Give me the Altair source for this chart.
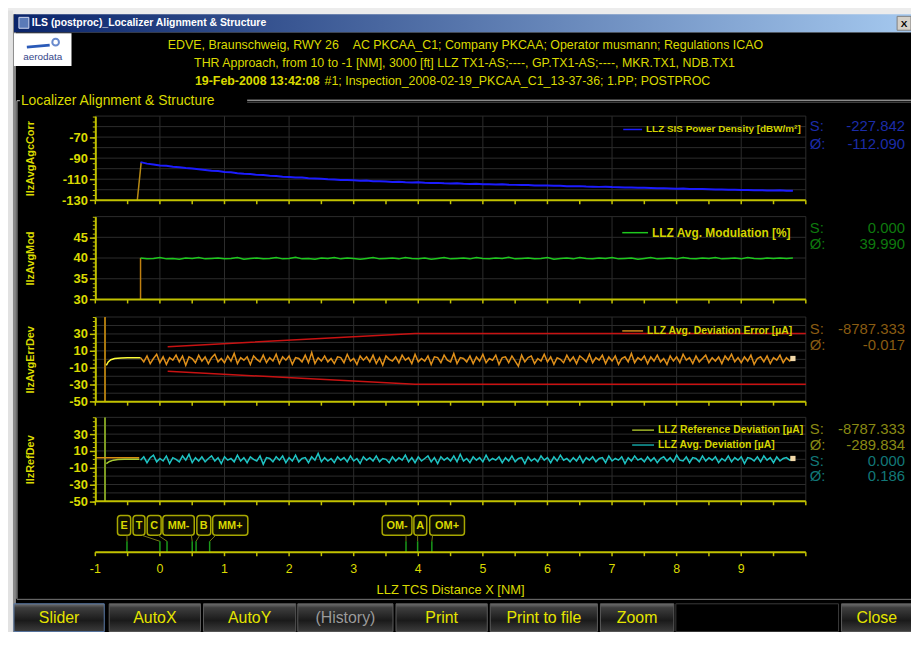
import altair as alt
import pandas as pd

# ------------------------------------------------------------------ data
x_ticks = [-1, -0.5, 0, 0.5, 1, 1.5, 2, 2.5, 3, 3.5, 4, 4.5, 5, 5.5, 6, 6.5, 7, 7.5, 8, 8.5, 9, 9.5, 10]
x_labels = [-1, 0, 1, 2, 3, 4, 5, 6, 7, 8, 9]
x_grid = [0, 1, 2, 3, 4, 5, 6, 7, 8, 9, 10]

# LLZ SIS power density [dBW/m2], samples every 0.1 NM from -0.3 NM
power_density = [
    -93.8, -95.2, -96.0, -96.9, -97.3, -98.1, -98.6, -99.4, -99.9, -100.6,
    -101.2, -101.9, -102.3, -103.2, -103.5, -104.3, -104.8, -105.1, -105.9, -106.1,
    -106.8, -107.0, -107.6, -107.9, -108.4, -108.5, -109.1, -109.3, -109.6, -110.1,
    -110.2, -110.7, -110.8, -111.1, -111.4, -111.3, -111.9, -112.0, -112.2, -112.6,
    -112.4, -112.9, -113.1, -113.0, -113.4, -113.6, -113.5, -113.9, -114.0, -113.8,
    -114.3, -114.5, -114.4, -114.7, -114.9, -115.0, -114.8, -115.3, -115.4, -115.6,
    -115.5, -115.9, -116.0, -116.1, -116.3, -116.2, -116.6, -116.7, -116.6, -117.0,
    -117.1, -117.3, -117.2, -117.5, -117.6, -117.9, -117.8, -118.1, -118.2, -118.3,
    -118.6, -118.5, -118.8, -119.0, -118.9, -119.3, -119.4, -119.3, -119.6, -119.8,
    -119.7, -120.0, -120.1, -120.3, -120.2, -120.5, -120.4, -120.7, -120.8, -120.6,
    -121.0, -121.0]

# LLZ avg. modulation [%], every 0.1 NM from -0.3 NM
modulation = [
    40.0, 39.8, 39.9, 40.1, 39.8, 39.9, 39.7, 40.0, 39.9, 40.1, 39.8, 39.9, 40.0, 39.8, 39.9, 40.1, 39.7, 39.9, 40.0, 39.8,
    39.9, 40.1, 39.8, 39.9, 40.2, 39.8, 39.9, 39.7, 40.0, 39.9, 40.1, 39.8, 40.0, 39.9, 39.7, 39.9, 40.1, 39.8, 39.9, 40.0,
    39.8, 40.1, 39.9, 39.8, 40.0, 39.7, 39.9, 40.1, 39.8, 39.9, 40.0, 39.8, 40.1, 39.9, 39.8, 40.0, 39.9, 40.2, 39.8, 39.9,
    40.0, 39.8, 39.9, 40.1, 39.7, 39.9, 40.0, 39.8, 40.1, 39.9, 39.8, 40.0, 39.9, 40.1, 39.8, 39.9, 40.0, 39.7, 39.9, 40.1,
    39.8, 39.9, 40.0, 39.8, 40.1, 39.9, 39.8, 40.0, 39.9, 40.1, 39.8, 39.9, 40.0, 39.8, 40.1, 39.9, 39.8, 40.0, 39.9, 40.0,
    39.9, 40.0]

# LLZ avg. deviation error [uA], every 0.05 NM from -0.3 NM
dev_error = [
    2, -3, 4, -5, 1, 6, -4, 3, -6, 2, -1, 5, -3, 4, -7, 3, 1, -4, 5, -2,
    3, -5, 2, 6, -3, 1, -4, 4, -2, 7, -5, 2, -1, 3, -6, 4, 0, -3, 5, -4,
    2, -2, 6, -5, 3, -1, 4, -6, 2, 1, -3, 5, -4, 8, -5, 2, -2, 4, -3, 1,
    -5, 3, 2, -4, 6, -2, 1, -6, 4, -1, 3, -3, 5, -5, 2, -7, 4, 0, -2, 3,
    -4, 5, -1, 2, -5, 6, -3, 1, -2, 4, -6, 3, 2, -4, 5, -1, -3, 7, -5, 2,
    1, -3, 4, -5, 3, -2, 6, -4, 1, -1, 5, -6, 2, 3, -4, 4, -2, -8, 5, -3,
    2, 4, -5, 1, -2, 6, -3, 3, -6, 2, 0, -4, 5, -2, 3, -5, 4, 1, -3, 6,
    -4, 2, -1, 5, -5, 3, -2, 4, -6, 1, 3, -3, 7, -4, 2, -1, 4, -5, 3, -2,
    5, -3, 1, -6, 4, -2, 3, -4, 6, -1, 2, -5, 4, -3, 1, 5, -4, 2, -2, 3,
    -5, 4, -1, 6, -3, 2, -4, 3, -2, 5, -6, 1, 3, -3, 4, -5, 2, -1, 5, -4,
    2, -2, 1]

# LLZ avg. deviation [uA], every 0.05 NM from -0.3 NM
avg_deviation = [
    -1, 3, -4, 2, 5, -3, 1, -2, 4, -5, 2, 0, -3, 4, -1, 6, -4, 2, -2, 3,
    -3, 1, 4, -2, 2, -5, 3, -1, 1, -3, 5, -2, 2, -4, 3, 0, -2, 4, -6, 2,
    1, -3, 3, -1, 4, -4, 2, -2, 5, -3, 1, 2, -4, 3, -1, 7, -3, 2, -2, 1,
    -4, 3, -1, 2, -3, 4, -2, 1, -5, 3, -1, 2, -2, 4, -3, 1, 0, -4, 3, -2,
    2, -1, 5, -3, 2, -4, 3, -2, 1, 4, -3, 2, -5, 3, -1, 2, -2, 4, -3, 6,
    -2, 1, -4, 3, -1, 2, -3, 5, -2, 1, -1, 3, -4, 2, -2, 4, -3, 1, 2, -5,
    3, -2, 1, -3, 4, -1, 2, -4, 3, -2, 5, -1, 1, -3, 2, -2, 4, -4, 2, -1,
    3, -3, 1, 2, -4, 4, -2, 1, -1, 3, -5, 2, -2, 4, -1, 1, -3, 3, -2, 2,
    -4, 1, 3, -2, 2, -3, 5, -1, -2, 3, -4, 2, 1, -3, 4, -2, 2, -1, 3, -4,
    1, -2, 4, -3, 2, -1, 3, -5, 2, 1, -2, 3, -3, 4, -1, 2, -4, 3, -2, 1,
    2, -1, 1]

dist_coarse = [round(-0.3 + 0.1 * i, 3) for i in range(len(power_density))]
dist_mod = [round(-0.3 + 0.1 * i, 3) for i in range(len(modulation))]
dist_fine_err = [round(-0.3 + 0.05 * i, 3) for i in range(len(dev_error))]
dist_fine_dev = [round(-0.3 + 0.05 * i, 3) for i in range(len(avg_deviation))]

agc_spike_x = [-0.35, -0.29]
agc_spike_y = [-130, -94]
mod_spike_x = [-0.30, -0.30]
mod_spike_y = [30, 40]
err_spike_x = [-0.85, -0.85]
err_spike_y = [-50, 50]
err_init_x = [-0.83, -0.80, -0.76, -0.70, -0.60, -0.50, -0.40, -0.30]
err_init_y = [-7, -3, -0.5, 1, 1.5, 1.8, 1.8, 1.8]
tol_x = [0.12, 3.95, 10]
tol_upper = [15, 30.5, 30.5]
tol_lower = [-14, -29.5, -29.5]
ref_spike_x = [-0.85, -0.85]
ref_spike_y = [-50, 50]
ref_init_x = [-0.83, -0.78, -0.72, -0.65, -0.55, -0.45, -0.32]
ref_init_y = [-5, -2.5, -1, -0.3, 0, 0, 0]
ref_pre_x = [-1, -0.32]
ref_pre_y = [2, 2]

marker_names = ["E", "T", "C", "MM-", "B", "MM+", "OM-", "A", "OM+"]
marker_x = [-0.51, 0.0, 0.11, 0.50, 0.56, 0.77, 3.81, 3.99, 4.21]
marker_box_left = [-0.657, -0.416, -0.197, 0.045, 0.572, 0.817, 3.441, 3.932, 4.177]
marker_box_right = [-0.453, -0.232, 0.019, 0.532, 0.787, 1.361, 3.902, 4.131, 4.715]

header_1 = "EDVE, Braunschweig, RWY 26\u00a0\u00a0\u00a0\u00a0AC PKCAA_C1; Company PKCAA; Operator musmann; Regulations ICAO"
header_2 = "THR Approach, from 10 to -1 [NM], 3000 [ft] LLZ TX1-AS;----, GP.TX1-AS;----, MKR.TX1, NDB.TX1"
header_3a = "19-Feb-2008 13:42:08"
header_3b = "#1; Inspection_2008-02-19_PKCAA_C1_13-37-36; 1.PP; POSTPROC"

buttons = ["Slider", "AutoX", "AutoY", "(History)", "Print", "Print to file", "Zoom", "", "Close"]

# ------------------------------------------------------------------ layout / style
W, H = 716, 624
FONT = "Liberation Sans"
YEL = "#dada00"
AXC = "#c2c200"
GRID = "#2c2c2c"


def vx(px):
    return px - 96


def vy(py):
    return py - 8


one = pd.DataFrame({"k": [0]})
XS = alt.Scale(domain=[-1, 10], nice=False, zero=False)


def txt(s, px, py, size=12, color=YEL, align="left", weight="normal"):
    return alt.Chart(one).mark_text(
        text=s, align=align, baseline="middle", fontSize=size, color=color,
        fontWeight=weight, font=FONT
    ).encode(x=alt.value(vx(px)), y=alt.value(vy(py)))


def box(px1, py1, px2, py2, **kw):
    return alt.Chart(one).mark_rect(**kw).encode(
        x=alt.value(vx(px1)), x2=alt.value(vx(px2)),
        y=alt.value(vy(py1)), y2=alt.value(vy(py2)))


def seg(px1, py1, px2, py2, color, width=1.0):
    return alt.Chart(one).mark_rule(color=color, strokeWidth=width).encode(
        x=alt.value(vx(px1)), x2=alt.value(vx(px2)),
        y=alt.value(vy(py1)), y2=alt.value(vy(py2)))


panels = [
    dict(title="IlzAvgAgcCorr", domain=[-130, -50], top=114.5, bottom=199.3,
         major=[-130, -110, -90, -70],
         minor=[-130, -125, -120, -115, -110, -105, -100, -95, -90, -85, -80, -75, -70, -65, -60, -55, -50],
         grid=[-120, -110, -100, -90, -80, -70, -60, -50]),
    dict(title="IlzAvgMod", domain=[30, 50], top=215.8, bottom=299.3,
         major=[30, 35, 40, 45],
         minor=[30, 31, 32, 33, 34, 35, 36, 37, 38, 39, 40, 41, 42, 43, 44, 45, 46, 47, 48, 49, 50],
         grid=[35, 40, 45, 50]),
    dict(title="IlzAvgErrDev", domain=[-50, 50], top=317.0, bottom=402.3,
         major=[-50, -30, -10, 10, 30],
         minor=[-50, -45, -40, -35, -30, -25, -20, -15, -10, -5, 0, 5, 10, 15, 20, 25, 30, 35, 40, 45, 50],
         grid=[-40, -30, -20, -10, 0, 10, 20, 30, 40, 50]),
    dict(title="IlzRefDev", domain=[-50, 50], top=418.1, bottom=502.7,
         major=[-50, -30, -10, 10, 30],
         minor=[-50, -45, -40, -35, -30, -25, -20, -15, -10, -5, 0, 5, 10, 15, 20, 25, 30, 35, 40, 45, 50],
         grid=[-40, -30, -20, -10, 0, 10, 20, 30, 40, 50]),
]


def ysc(p):
    return alt.Scale(domain=p["domain"], range=[vy(p["bottom"]), vy(p["top"])], nice=False, zero=False)


def series(xs, ys, p, color, width=1.5):
    df = pd.DataFrame({"x": xs, "y": ys, "i": list(range(len(xs)))})
    return alt.Chart(df).mark_line(color=color, strokeWidth=width).encode(
        x=alt.X("x:Q", scale=XS, axis=None),
        y=alt.Y("y:Q", scale=ysc(p), axis=None),
        order=alt.Order("i:Q"))


def end_marker(x, y, p):
    df = pd.DataFrame({"x": [x], "y": [y]})
    return alt.Chart(df).mark_square(size=28, color="#f2d8a8", opacity=1).encode(
        x=alt.X("x:Q", scale=XS, axis=None), y=alt.Y("y:Q", scale=ysc(p), axis=None))


layers = []

# ---- window chrome
layers.append(box(14, 30, 930, 650, fill="#000000"))
layers.append(box(8, 8, 13, 650, fill="#e2e2e2"))
layers.append(box(13, 12, 16, 650, fill="#8a8a8a"))
title_grad = {"gradient": "linear", "x1": 0, "y1": 0, "x2": 1, "y2": 0,
              "stops": [{"offset": 0, "color": "#0a246a"}, {"offset": 1, "color": "#a6caf0"}]}
layers.append(box(14, 12, 930, 30, fill=title_grad))
layers.append(box(19, 15, 29, 26, fill="#5a7ab8", stroke="#d0d8f0", strokeWidth=1))
layers.append(txt("ILS (postproc)_Localizer Alignment & Structure", 32, 21, size=10.5, color="#ffffff", weight="bold"))
layers.append(box(904, 14, 918, 28, fill="#d4d0c8", stroke="#808080", strokeWidth=1))
layers.append(txt("X", 911, 21.5, size=10, color="#000000", align="center", weight="bold"))

# logo
layers.append(box(14, 31, 72, 64, fill="#ffffff"))
layers.append(seg(27, 45, 50, 43, "#2a5ab8", 3))
layers.append(alt.Chart(one).mark_point(shape="circle", size=45, filled=False, color="#2a5ab8", strokeWidth=2).encode(
    x=alt.value(vx(56)), y=alt.value(vy(40))))
layers.append(txt("aerodata", 43, 55, size=10, color="#34468a", align="center"))

# header
layers.append(txt(header_1, 469, 43, size=12.5, align="center"))
layers.append(txt(header_2, 468, 61, size=12.5, align="center"))
layers.append(txt(header_3a, 322, 79, size=12.5, align="right", weight="bold"))
layers.append(txt(header_3b, 327, 79, size=12.5, align="left"))

# group frame
layers.append(seg(17, 99, 20, 99, "#c0c0c0", 1))
layers.append(txt("Localizer Alignment & Structure", 21, 99, size=14))
layers.append(seg(249, 98.5, 930, 98.5, "#c8c8c8", 1))
layers.append(seg(249, 100.5, 930, 100.5, "#5a5a5a", 1))
layers.append(seg(17, 99, 17, 601, "#c0c0c0", 1))
layers.append(seg(17, 601.5, 930, 601.5, "#7a7a7a", 1))

# ---- panels
for p in panels:
    b = vy(p["bottom"])
    t = vy(p["top"])
    layers.append(alt.Chart(pd.DataFrame({"g": p["grid"]})).mark_rule(color=GRID, strokeWidth=1).encode(
        y=alt.Y("g:Q", scale=ysc(p), axis=None), x=alt.value(0), x2=alt.value(W)))
    layers.append(alt.Chart(pd.DataFrame({"g": x_grid})).mark_rule(color=GRID, strokeWidth=1).encode(
        x=alt.X("g:Q", scale=XS, axis=None), y=alt.value(t), y2=alt.value(b)))

# data series
P1, P2, P3, P4 = panels
layers.append(series(agc_spike_x, agc_spike_y, P1, "#b88a14", 1.5))
layers.append(series(dist_coarse, power_density, P1, "#1c1cff", 2))
layers.append(series(mod_spike_x, mod_spike_y, P2, "#c08010", 1.5))
layers.append(series(dist_mod, modulation, P2, "#1ec81e", 1.5))
layers.append(series(tol_x, tol_upper, P3, "#c81212", 1.5))
layers.append(series(tol_x, tol_lower, P3, "#c81212", 1.5))
layers.append(series(err_spike_x, err_spike_y, P3, "#a8760e", 2))
layers.append(series(err_init_x, err_init_y, P3, "#ffff3a", 1.5))
layers.append(series(dist_fine_err, dev_error, P3, "#e0901a", 1.5))
layers.append(end_marker(dist_fine_err[-1], dev_error[-1], P3))
layers.append(series(ref_spike_x, ref_spike_y, P4, "#7c9a22", 2))
layers.append(series(ref_pre_x, ref_pre_y, P4, "#d88c12", 1.5))
layers.append(series(ref_init_x, ref_init_y, P4, "#a8cc34", 1.5))
layers.append(series(dist_fine_dev, avg_deviation, P4, "#1ec4c4", 1.5))
layers.append(end_marker(dist_fine_dev[-1], avg_deviation[-1], P4))

# panel axes
for p in panels:
    b = vy(p["bottom"])
    layers.append(alt.Chart(pd.DataFrame({"v": p["major"]})).mark_point(opacity=0).encode(
        y=alt.Y("v:Q", scale=ysc(p), axis=alt.Axis(
            orient="left", values=p["major"], title=p["title"], zindex=2,
            labelExpr="toString(datum.value)",
            labelColor=YEL, labelFont=FONT, labelFontSize=13, labelFontWeight="bold",
            labelPadding=2, labelOverlap=False, labelFlush=False,
            tickColor=AXC, tickSize=6, tickWidth=1.5, domainColor=AXC, domainWidth=2,
            grid=False, titleColor=YEL, titleFont=FONT, titleFontSize=11,
            titleFontWeight="bold", titleX=-60))))
    layers.append(alt.Chart(pd.DataFrame({"v": p["minor"]})).mark_point(opacity=0).encode(
        y=alt.Y("v:Q", scale=ysc(p), axis=alt.Axis(
            orient="left", values=p["minor"], labels=False, tickColor=AXC, tickSize=3, zindex=2,
            tickWidth=1, domain=False, grid=False, title=None))))
    layers.append(alt.Chart(one).mark_rule(color=AXC, strokeWidth=2).encode(
        x=alt.value(0), x2=alt.value(W), y=alt.value(b)))
    layers.append(alt.Chart(pd.DataFrame({"t": x_ticks})).mark_rule(color=AXC, strokeWidth=1.5).encode(
        x=alt.X("t:Q", scale=XS, axis=None), y=alt.value(b), y2=alt.value(b + 4)))

# legends inside panels
leg = [
    (628, 647, 128, "#1c1cff", "LLZ SIS Power Density [dBW/m\u00b2]", 10),
    (627, 653, 232, "#1ec81e", "LLZ Avg. Modulation [%]", 12),
    (627, 648, 331, "#d08a1a", "LLZ Avg. Deviation Error [\u00b5A]", 10.5),
    (637, 659, 431, "#a0b428", "LLZ Reference Deviation [\u00b5A]", 10.5),
    (637, 659, 446, "#14a4a4", "LLZ Avg. Deviation [\u00b5A]", 10.5),
]
for x1, x2, yy, col, label, fs in leg:
    layers.append(seg(x1, yy, x2, yy, col, 1.5))
    layers.append(txt(label, x2 + 4, yy, size=fs, color="#d4d400", weight="bold"))

# statistics at the right
stats = [
    ("S:", "-227.842", 125, "#1c2ca8"), ("\u00d8:", "-112.090", 143, "#1c2ca8"),
    ("S:", "0.000", 227, "#0e7a0e"), ("\u00d8:", "39.990", 243, "#0e7a0e"),
    ("S:", "-8787.333", 329, "#8a5c12"), ("\u00d8:", "-0.017", 345, "#8a5c12"),
    ("S:", "-8787.333", 430, "#8a8a14"), ("\u00d8:", "-289.834", 446, "#8a8a14"),
    ("S:", "0.000", 462, "#127878"), ("\u00d8:", "0.186", 477, "#127878"),
]
for lab, val, yy, col in stats:
    layers.append(txt(lab, 816, yy, size=15, color=col))
    layers.append(txt(val, 912, yy, size=15, color=col, align="right"))

# ---- markers
mk = pd.DataFrame({
    "name": marker_names, "m": marker_x, "l": marker_box_left, "r": marker_box_right})
mk["c"] = (mk["l"] + mk["r"]) / 2
inset = 0.045
mk["link"] = [min(max(m, l + inset), r - inset) for m, l, r in zip(mk["m"], mk["l"], mk["r"])]
layers.append(alt.Chart(mk).mark_rect(fill="#0e0e00", stroke="#a8a800", strokeWidth=1.5, cornerRadius=3).encode(
    x=alt.X("l:Q", scale=XS, axis=None), x2="r:Q", y=alt.value(vy(517)), y2=alt.value(vy(537))))
layers.append(alt.Chart(mk).mark_text(fontSize=11, fontWeight="bold", color="#d8d800", font=FONT, baseline="middle").encode(
    x=alt.X("c:Q", scale=XS, axis=None), y=alt.value(vy(527.5)), text="name:N"))
layers.append(alt.Chart(mk).mark_rule(color="#7a7a14", strokeWidth=1).encode(
    x=alt.X("link:Q", scale=XS, axis=None), x2="m:Q", y=alt.value(vy(537)), y2=alt.value(vy(543))))
layers.append(alt.Chart(mk).mark_rule(color="#1a9a1a", strokeWidth=1.5).encode(
    x=alt.X("m:Q", scale=XS, axis=None), y=alt.value(vy(543)), y2=alt.value(vy(554))))

# ---- main distance axis (drawn through the shared x scale)
AX_Y = vy(554)
layers.append(alt.Chart(one).mark_rule(color=AXC, strokeWidth=2).encode(
    x=alt.value(0), x2=alt.value(W), y=alt.value(AX_Y)))
layers.append(alt.Chart(pd.DataFrame({"t": x_ticks})).mark_rule(color=AXC, strokeWidth=1.5).encode(
    x=alt.X("t:Q", scale=XS, axis=None), y=alt.value(AX_Y), y2=alt.value(AX_Y + 4)))
xl = pd.DataFrame({"t": x_labels, "s": [str(v) for v in x_labels]})
layers.append(alt.Chart(xl).mark_text(fontSize=12.5, color=YEL, font=FONT, baseline="middle", align="center").encode(
    x=alt.X("t:Q", scale=XS, axis=None), y=alt.value(vy(571)), text="s:N"))
layers.append(txt("LLZ TCS Distance X [NM]", 454, 592, size=13, align="center"))

# ---- buttons
btn_grad = {"gradient": "linear", "x1": 0, "y1": 0, "x2": 0, "y2": 1,
            "stops": [{"offset": 0, "color": "#707070"}, {"offset": 0.14, "color": "#3e3e3e"},
                      {"offset": 0.6, "color": "#1a1a1a"}, {"offset": 1, "color": "#3c3c3c"}]}
btn_x = [(14, 105), (110, 202), (205, 298), (300, 396), (399, 491), (494, 602), (605, 679), (681, 845), (848, 925)]
for name, (x1, x2) in zip(buttons, btn_x):
    if name == "":
        layers.append(box(x1, 606, x2, 634, fill="#000000", stroke="#3a3a3a", strokeWidth=1))
        continue
    stroke = "#5a7aa8" if name == "Slider" else "#5c5c5c"
    layers.append(box(x1, 606, x2, 634, fill=btn_grad, stroke=stroke, strokeWidth=1))
    col = "#9a9a9a" if name == "(History)" else "#e4e400"
    layers.append(txt(name, (x1 + min(x2, 919)) / 2, 620, size=16, color=col, align="center"))

chart = alt.layer(*layers).resolve_scale(y="independent").properties(
    width=W, height=H,
    padding={"left": 88, "top": 0, "right": 106, "bottom": 0},
    autosize=alt.AutoSizeParams(type="none"),
    background="#ececec",
).configure_view(strokeWidth=0)

chart.save("out.html", embed_options={"renderer": "svg", "actions": False})
